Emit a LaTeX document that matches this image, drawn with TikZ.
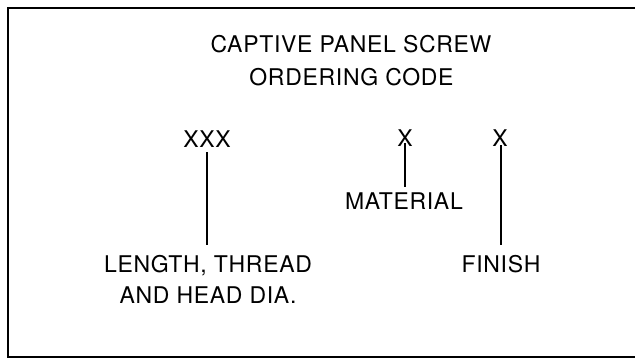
\documentclass[tikz,border=0pt]{standalone}
\usepackage{fontspec}
\setmainfont{TeX Gyre Heros}[LetterSpace=3]
\usetikzlibrary{calc}
\begin{document}
\begin{tikzpicture}[x=1pt,y=-1pt,
  lbl/.style={inner sep=0pt,anchor=base,font=\fontsize{23}{27}\selectfont},
  lead/.style={line width=2.8pt},
  frame/.style={line width=2pt}]
\useasboundingbox (0,0) rectangle (635,360);
\fill[white] (0,0) rectangle (635,360);
% frame (right side outside the picture)
\coordinate (tr) at (636,8);
\coordinate (tl) at (8,8);
\coordinate (bl) at (8,357);
\coordinate (br) at (636,357);
\draw[frame] (tr) -- (tl) -- (bl) -- (br);
% title
\node[lbl] (t1) at (351,52) {CAPTIVE PANEL SCREW};
\node[lbl] (t2) at (351.5,85) {ORDERING CODE};
% code
\node[lbl] (xxx) at (207,147) {XXX};
\node[lbl] (xm) at (405,146) {X};
\node[lbl] (xf) at (500,146) {X};
% labels
\node[lbl] (len) at (208,272) {LENGTH, THREAD};
\node[lbl] (head) at (208,303) {AND HEAD DIA.};
\node[lbl] (mat) at (404,209) {MATERIAL};
\node[lbl] (fin) at (501,272) {FINISH};
% leaders
\draw[lead] ($(xxx.south)+(0,5)$) -- ($(len.north)+(-1,-10)$);
\draw[lead] ($(xm.south)+(0,-3)$) -- ($(mat.north)+(1,-5)$);
\draw[lead] ($(xf.south)+(1,-1)$) -- ($(fin.north)+(0,-10)$);
\end{tikzpicture}
\end{document}
